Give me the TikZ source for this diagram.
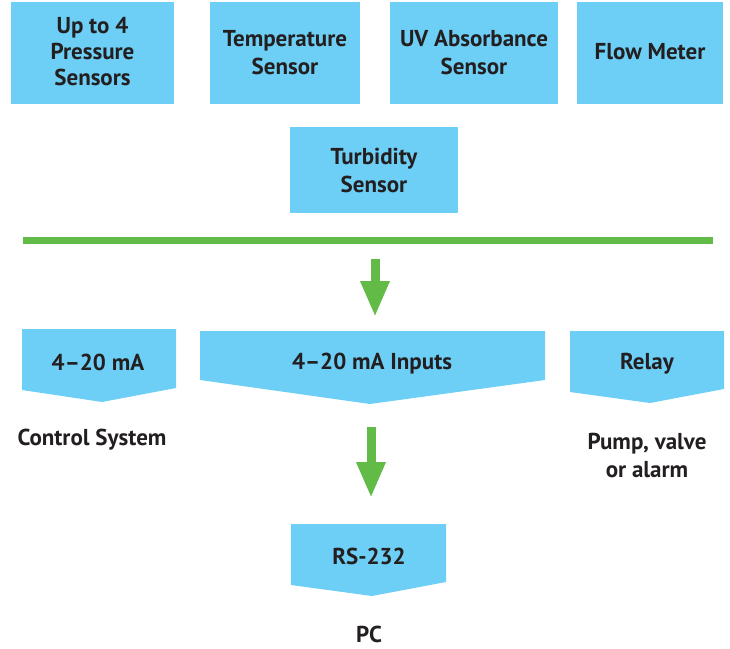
\documentclass[tikz,border=0pt]{standalone}
\usepackage{fontspec}
\setmainfont{PT Sans}
\usetikzlibrary{arrows.meta}
\definecolor{boxblue}{HTML}{6DCFF6}
\definecolor{arrgreen}{HTML}{62BB46}
\definecolor{txt}{HTML}{231F20}
\tikzset{
  lbl/.style={text=txt, font=\bfseries\fontsize{23}{28}\selectfont, align=center, inner sep=0pt},
  sensor/.style={lbl, fill=boxblue, minimum height=102pt},
  pent/.style={fill=boxblue},
  bigarrow/.style={arrgreen, line width=9pt, -{Triangle[length=36pt,width=27pt]}},
}
\begin{document}
\begin{tikzpicture}[x=1pt,y=-1pt]
\useasboundingbox (0,0) rectangle (730,648);
% sensors
\node[sensor, minimum width=163pt, font=\bfseries\fontsize{23}{26}\selectfont, text depth=4pt] (press) at (92.5,53) {Up to 4\\Pressure\\Sensors};
\node[sensor, minimum width=150pt] (temp) at (285,53) {Temperature\\Sensor};
\node[sensor, minimum width=168pt] (uv) at (474,53) {UV Absorbance\\Sensor};
\node[sensor, minimum width=146pt, text depth=4pt] (flow) at (650,53) {Flow Meter};
\node[sensor, minimum width=168pt, minimum height=86pt] (turb) at (374,170) {Turbidity\\Sensor};
% bus bar
\node[fill=arrgreen, minimum width=690pt, minimum height=7pt, inner sep=0pt] (bus) at (368,240.5) {};
\coordinate (a1s) at (375,259);
\coordinate (a1e) at (375,317);
\draw[bigarrow] (a1s) -- (a1e);
% pentagons
\fill[pent] (22,329) -- (176,329) -- (176,388) -- (102,402) -- (22,390) -- cycle;
\node[lbl] (ma) at (98,362) {4–20 mA};
\fill[pent] (200,331) -- (545,331) -- (545,380) -- (370,404) -- (200,380) -- cycle;
\node[lbl] (inputs) at (372,364) {4–20 mA Inputs};
\fill[pent] (570,331) -- (724,331) -- (724,389) -- (650,403) -- (570,392) -- cycle;
\node[lbl] (relay) at (647,364) {Relay};
\coordinate (a2s) at (371,427);
\coordinate (a2e) at (371,498);
\draw[bigarrow] (a2s) -- (a2e);
\fill[pent] (291,524) -- (446,524) -- (446,582) -- (372,596) -- (291,585) -- cycle;
\node[lbl] (rs) at (369,556) {RS-232};
% outputs
\node[lbl] (ctrl) at (92,440) {Control System};
\node[lbl] (pump) at (647,455) {Pump, valve\\or alarm};
\node[lbl] (pc) at (369,634) {PC};
\end{tikzpicture}
\end{document}
